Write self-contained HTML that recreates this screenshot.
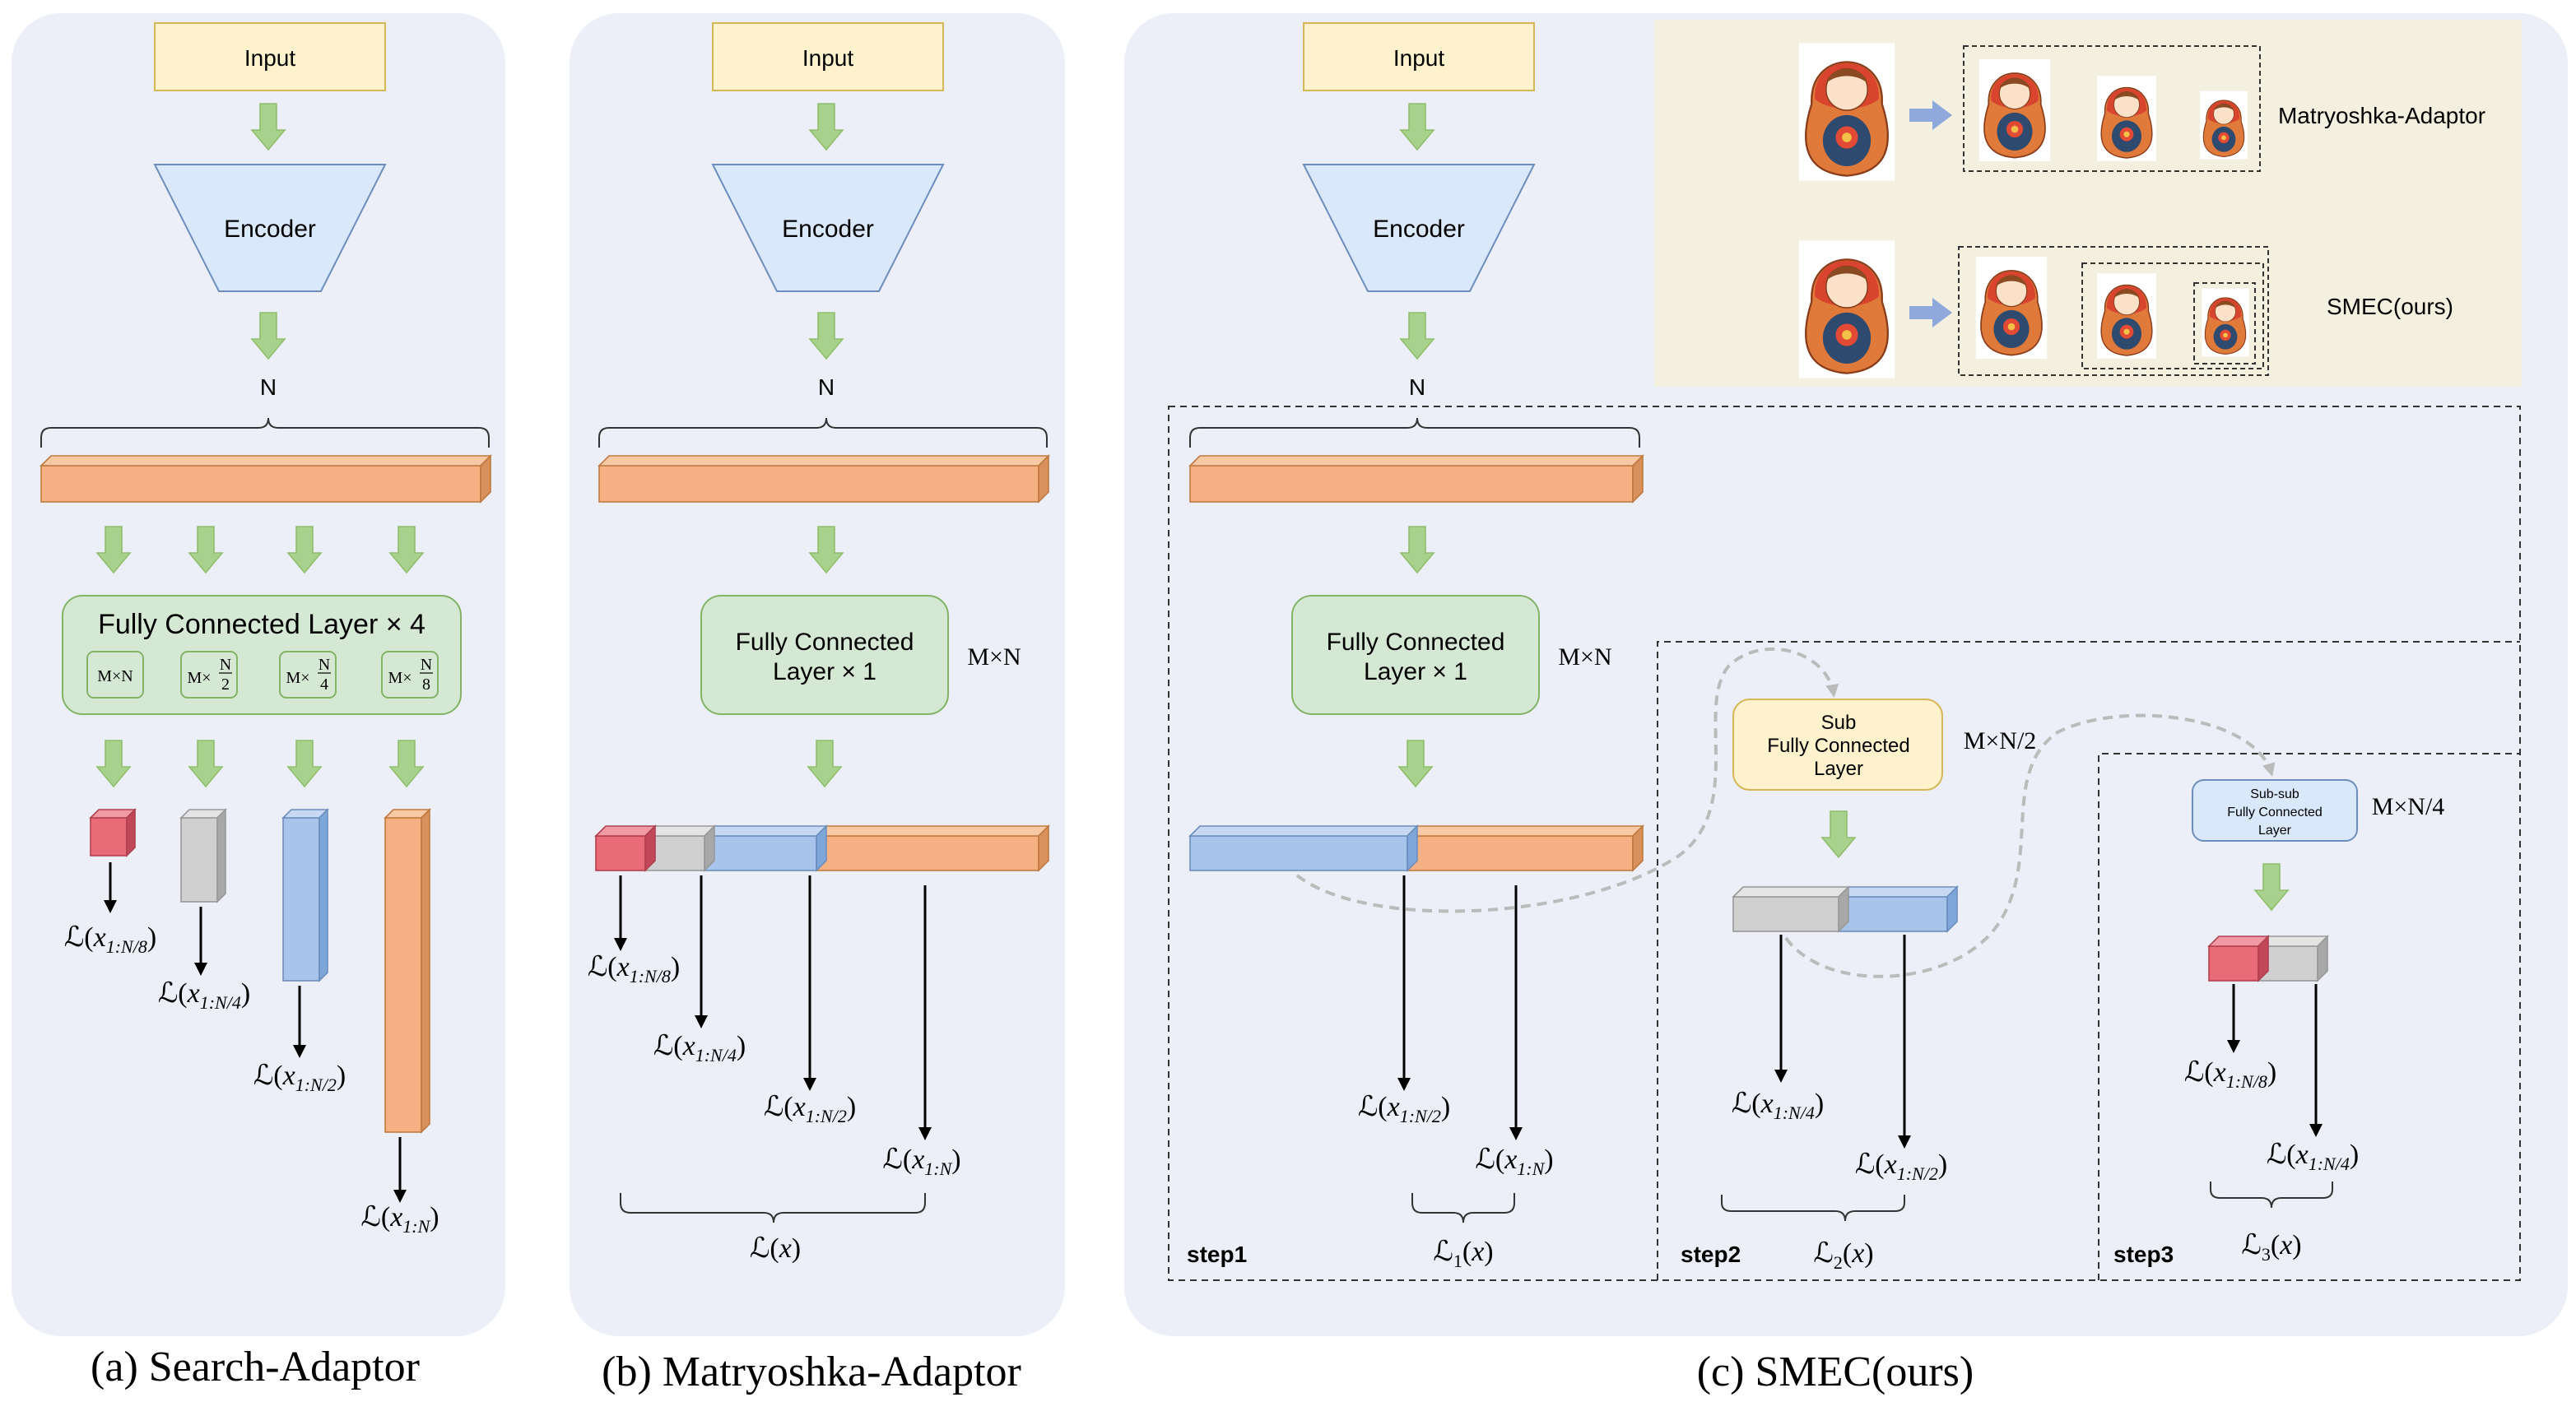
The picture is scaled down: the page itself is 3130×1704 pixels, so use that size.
<!DOCTYPE html>
<html><head><meta charset="utf-8"><style>html,body{margin:0;padding:0;background:#fff}svg{display:block}.s{font-style:italic}</style></head><body>
<svg width="3130" height="1704" viewBox="0 0 1565 852" preserveAspectRatio="none" xmlns="http://www.w3.org/2000/svg" font-family="Liberation Sans, sans-serif">
<defs>
<symbol id="ga" overflow="visible"><polygon points="-5,0 5,0 5,16 10,16 0,28 -10,16 -5,16" fill="#a9d18e" stroke="#8fbf6b" stroke-width="0.8"/></symbol>
<marker id="ah" markerWidth="8" markerHeight="8" refX="6" refY="4" orient="auto" markerUnits="userSpaceOnUse"><path d="M0,0 L8,4 L0,8 z" fill="#000"/></marker>
<marker id="gh" markerWidth="8" markerHeight="8" refX="6" refY="4" orient="auto" markerUnits="userSpaceOnUse"><path d="M0,0 L8,4 L0,8 z" fill="#bbb"/></marker>
<g id="doll">
<rect x="-30" y="-43" width="60" height="86" fill="#fff"/>
<path d="M-22,-5 C-24,-40 24,-40 22,-5 C30,20 26,38 0,40 C-26,38 -30,20 -22,-5z" fill="#e07a3a" stroke="#8a3d1a" stroke-width="1.2"/>
<path d="M-20,-8 C-22,-38 22,-38 20,-8 C10,0 -10,0 -20,-8z" fill="#d9442f"/>
<ellipse cx="0" cy="-14" rx="13" ry="13" fill="#fbe1c8" stroke="#8a3d1a" stroke-width="0.8"/>
<path d="M-13,-18 C-10,-30 10,-30 13,-18 C6,-24 -6,-24 -13,-18z" fill="#8a4a22"/>
<ellipse cx="0" cy="18" rx="15" ry="16" fill="#2e4a6e"/>
<circle cx="0" cy="16" r="7" fill="#e24a35"/><circle cx="0" cy="16" r="3" fill="#f3c14a"/>
</g>
</defs>

<rect x="7" y="8" width="300" height="804" rx="30" fill="#eceff7"/>
<rect x="346" y="8" width="301" height="804" rx="30" fill="#eceff7"/>
<rect x="683" y="8" width="877" height="804" rx="30" fill="#eceff7"/>

<g font-size="14" text-anchor="middle">
<rect x="94" y="14" width="140" height="41" fill="#fff2cc" stroke="#d6b656"/>
<text x="164" y="40">Input</text>
<use href="#ga" x="163" y="63"/>
<polygon points="94,100 234,100 195,177 133,177" fill="#dae8fc" stroke="#6c8ebf"/>
<text x="164" y="144" font-size="15">Encoder</text>
<use href="#ga" x="163" y="190"/>
<text x="163" y="240">N</text>
<path d="M25,272 V266 Q25,260 31,260 H157 Q163,260 163,254 Q163,260 169,260 H291 Q297,260 297,266 V272" fill="none" stroke="#333" stroke-width="1"/>
<g stroke="#c07a40" stroke-width="0.8"><rect x="25" y="283" width="267" height="22" fill="#f5b183"/><polygon points="25,283 31,277 298,277 292,283" fill="#f8c9a5"/><polygon points="292,283 298,277 298,299 292,305" fill="#d9905a"/></g>
<use href="#ga" x="69" y="320"/><use href="#ga" x="125" y="320"/><use href="#ga" x="185" y="320"/><use href="#ga" x="247" y="320"/>
<rect x="38" y="362" width="242" height="72" rx="12" fill="#d5e8d4" stroke="#82b366"/>
<text x="159" y="385" font-size="17">Fully Connected Layer × 4</text>
<g fill="#d5e8d4" stroke="#82b366"><rect x="53" y="396" width="34" height="28" rx="4"/><rect x="110" y="396" width="34" height="28" rx="4"/><rect x="170" y="396" width="34" height="28" rx="4"/><rect x="232" y="396" width="34" height="28" rx="4"/></g>
<g font-family="Liberation Serif, serif" font-size="10">
<text x="70" y="414">M×N</text>
<text x="121" y="415">M×</text><text x="137" y="407">N</text><line x1="133" y1="409" x2="141" y2="409" stroke="#000" stroke-width="0.6"/><text x="137" y="419">2</text>
<text x="181" y="415">M×</text><text x="197" y="407">N</text><line x1="193" y1="409" x2="201" y2="409" stroke="#000" stroke-width="0.6"/><text x="197" y="419">4</text>
<text x="243" y="415">M×</text><text x="259" y="407">N</text><line x1="255" y1="409" x2="263" y2="409" stroke="#000" stroke-width="0.6"/><text x="259" y="419">8</text>
</g>
<use href="#ga" x="69" y="450"/><use href="#ga" x="125" y="450"/><use href="#ga" x="185" y="450"/><use href="#ga" x="247" y="450"/>
<g stroke-width="0.8">
<rect x="55" y="497" width="22" height="23" fill="#ea6b78" stroke="#b04050"/><polygon points="55,497 60,492 82,492 77,497" fill="#f29aa4" stroke="#b04050"/><polygon points="77,497 82,492 82,515 77,520" fill="#c04858" stroke="#b04050"/>
<rect x="110" y="497" width="22" height="51" fill="#d0d0d0" stroke="#999"/><polygon points="110,497 115,492 137,492 132,497" fill="#e4e4e4" stroke="#999"/><polygon points="132,497 137,492 137,543 132,548" fill="#a8a8a8" stroke="#999"/>
<rect x="172" y="497" width="22" height="99" fill="#a9c4eb" stroke="#6c8ebf"/><polygon points="172,497 177,492 199,492 194,497" fill="#c6d8f2" stroke="#6c8ebf"/><polygon points="194,497 199,492 199,591 194,596" fill="#7ea6d8" stroke="#6c8ebf"/>
<rect x="234" y="497" width="22" height="191" fill="#f5b183" stroke="#c07a40"/><polygon points="234,497 239,492 261,492 256,497" fill="#f8c9a5" stroke="#c07a40"/><polygon points="256,497 261,492 261,683 256,688" fill="#d9905a" stroke="#c07a40"/>
</g>
<g stroke="#000" stroke-width="1.5" marker-end="url(#ah)">
<line x1="67" y1="524" x2="67" y2="553"/><line x1="122" y1="551" x2="122" y2="591"/><line x1="182" y1="599" x2="182" y2="641"/><line x1="243" y1="691" x2="243" y2="729"/>
</g>
<g font-family="Liberation Serif, serif" font-size="17">
<text x="67" y="575">ℒ(<tspan font-style="italic">x</tspan><tspan class="s" font-size="11" dy="4">1:N/8</tspan><tspan dy="-4">)</tspan></text>
<text x="124" y="609">ℒ(<tspan font-style="italic">x</tspan><tspan class="s" font-size="11" dy="4">1:N/4</tspan><tspan dy="-4">)</tspan></text>
<text x="182" y="659">ℒ(<tspan font-style="italic">x</tspan><tspan class="s" font-size="11" dy="4">1:N/2</tspan><tspan dy="-4">)</tspan></text>
<text x="243" y="745">ℒ(<tspan font-style="italic">x</tspan><tspan class="s" font-size="11" dy="4">1:N</tspan><tspan dy="-4">)</tspan></text>
</g>
<text x="155" y="839" font-family="Liberation Serif, serif" font-size="26">(a) Search-Adaptor</text>

<rect x="433" y="14" width="140" height="41" fill="#fff2cc" stroke="#d6b656"/>
<text x="503" y="40">Input</text>
<use href="#ga" x="502" y="63"/>
<polygon points="433,100 573,100 534,177 472,177" fill="#dae8fc" stroke="#6c8ebf"/>
<text x="503" y="144" font-size="15">Encoder</text>
<use href="#ga" x="502" y="190"/>
<text x="502" y="240">N</text>
<path d="M364,272 V266 Q364,260 370,260 H496 Q502,260 502,254 Q502,260 508,260 H630 Q636,260 636,266 V272" fill="none" stroke="#333" stroke-width="1"/>
<g stroke="#c07a40" stroke-width="0.8"><rect x="364" y="283" width="267" height="22" fill="#f5b183"/><polygon points="364,283 370,277 637,277 631,283" fill="#f8c9a5"/><polygon points="631,283 637,277 637,299 631,305" fill="#d9905a"/></g>
<use href="#ga" x="502" y="320"/>
<rect x="426" y="362" width="150" height="72" rx="12" fill="#d5e8d4" stroke="#82b366"/>
<text x="501" y="395" font-size="15">Fully Connected</text><text x="501" y="413" font-size="15">Layer × 1</text>
<text x="604" y="404" font-family="Liberation Serif, serif" font-size="15">M×N</text>
<use href="#ga" x="501" y="450"/>
<g stroke-width="0.8">
<rect x="496" y="508" width="135" height="21" fill="#f5b183" stroke="#c07a40"/><polygon points="496,508 502,502 637,502 631,508" fill="#f8c9a5" stroke="#c07a40"/><polygon points="631,508 637,502 637,523 631,529" fill="#d9905a" stroke="#c07a40"/>
<rect x="428" y="508" width="68" height="21" fill="#a9c4eb" stroke="#6c8ebf"/><polygon points="428,508 434,502 502,502 496,508" fill="#c6d8f2" stroke="#6c8ebf"/><polygon points="496,508 502,502 502,523 496,529" fill="#7ea6d8" stroke="#6c8ebf"/>
<rect x="392" y="508" width="36" height="21" fill="#d0d0d0" stroke="#999"/><polygon points="392,508 398,502 434,502 428,508" fill="#e4e4e4" stroke="#999"/><polygon points="428,508 434,502 434,523 428,529" fill="#a8a8a8" stroke="#999"/>
<rect x="362" y="508" width="30" height="21" fill="#ea6b78" stroke="#b04050"/><polygon points="362,508 368,502 398,502 392,508" fill="#f29aa4" stroke="#b04050"/><polygon points="392,508 398,502 398,523 392,529" fill="#c04858" stroke="#b04050"/>
</g>
<g stroke="#000" stroke-width="1.5" marker-end="url(#ah)">
<line x1="377" y1="532" x2="377" y2="576"/><line x1="426" y1="532" x2="426" y2="623"/><line x1="492" y1="532" x2="492" y2="661"/><line x1="562" y1="538" x2="562" y2="691"/>
</g>
<g font-family="Liberation Serif, serif" font-size="17">
<text x="385" y="593">ℒ(<tspan font-style="italic">x</tspan><tspan class="s" font-size="11" dy="4">1:N/8</tspan><tspan dy="-4">)</tspan></text>
<text x="425" y="641">ℒ(<tspan font-style="italic">x</tspan><tspan class="s" font-size="11" dy="4">1:N/4</tspan><tspan dy="-4">)</tspan></text>
<text x="492" y="678">ℒ(<tspan font-style="italic">x</tspan><tspan class="s" font-size="11" dy="4">1:N/2</tspan><tspan dy="-4">)</tspan></text>
<text x="560" y="710">ℒ(<tspan font-style="italic">x</tspan><tspan class="s" font-size="11" dy="4">1:N</tspan><tspan dy="-4">)</tspan></text>
<text x="471" y="764">ℒ(<tspan font-style="italic">x</tspan>)</text>
</g>
<path d="M377,725 V731 Q377,737 383,737 H464 Q470,737 470,743 Q470,737 476,737 H556 Q562,737 562,731 V725" fill="none" stroke="#333" stroke-width="1"/>
<text x="493" y="842" font-family="Liberation Serif, serif" font-size="26">(b) Matryoshka-Adaptor</text>

<rect x="1005" y="12" width="527" height="223" fill="#f3f0e0"/>
<rect x="710" y="247" width="821" height="531" fill="none" stroke="#333" stroke-dasharray="4,3"/>
<path d="M1007,778 V390 H1531" fill="none" stroke="#333" stroke-dasharray="4,3"/>
<path d="M1275,778 V458 H1531" fill="none" stroke="#333" stroke-dasharray="4,3"/>

<rect x="792" y="14" width="140" height="41" fill="#fff2cc" stroke="#d6b656"/>
<text x="862" y="40">Input</text>
<use href="#ga" x="861" y="63"/>
<polygon points="792,100 932,100 893,177 831,177" fill="#dae8fc" stroke="#6c8ebf"/>
<text x="862" y="144" font-size="15">Encoder</text>
<use href="#ga" x="861" y="190"/>
<text x="861" y="240">N</text>
<path d="M723,272 V266 Q723,260 729,260 H855 Q861,260 861,254 Q861,260 867,260 H990 Q996,260 996,266 V272" fill="none" stroke="#333" stroke-width="1"/>
<g stroke="#c07a40" stroke-width="0.8"><rect x="723" y="283" width="269" height="22" fill="#f5b183"/><polygon points="723,283 729,277 998,277 992,283" fill="#f8c9a5"/><polygon points="992,283 998,277 998,299 992,305" fill="#d9905a"/></g>
<use href="#ga" x="861" y="320"/>
<rect x="785" y="362" width="150" height="72" rx="12" fill="#d5e8d4" stroke="#82b366"/>
<text x="860" y="395" font-size="15">Fully Connected</text><text x="860" y="413" font-size="15">Layer × 1</text>
<text x="963" y="404" font-family="Liberation Serif, serif" font-size="15">M×N</text>
<use href="#ga" x="860" y="450"/>
<g stroke-width="0.8">
<rect x="855" y="508" width="137" height="21" fill="#f5b183" stroke="#c07a40"/><polygon points="855,508 861,502 998,502 992,508" fill="#f8c9a5" stroke="#c07a40"/><polygon points="992,508 998,502 998,523 992,529" fill="#d9905a" stroke="#c07a40"/>
<rect x="723" y="508" width="132" height="21" fill="#a9c4eb" stroke="#6c8ebf"/><polygon points="723,508 729,502 861,502 855,508" fill="#c6d8f2" stroke="#6c8ebf"/><polygon points="855,508 861,502 861,523 855,529" fill="#7ea6d8" stroke="#6c8ebf"/>
</g>
<rect x="1053" y="425" width="127" height="55" rx="10" fill="#fff2cc" stroke="#d6b656"/>
<text x="1117" y="443" font-size="12">Sub</text><text x="1117" y="457" font-size="12">Fully Connected</text><text x="1117" y="471" font-size="12">Layer</text>
<text x="1215" y="455" font-family="Liberation Serif, serif" font-size="15">M×N/2</text>
<use href="#ga" x="1117" y="493"/>
<g stroke-width="0.8">
<rect x="1117" y="545" width="66" height="21" fill="#a9c4eb" stroke="#6c8ebf"/><polygon points="1117,545 1123,539 1189,539 1183,545" fill="#c6d8f2" stroke="#6c8ebf"/><polygon points="1183,545 1189,539 1189,560 1183,566" fill="#7ea6d8" stroke="#6c8ebf"/>
<rect x="1053" y="545" width="64" height="21" fill="#d0d0d0" stroke="#999"/><polygon points="1053,545 1059,539 1123,539 1117,545" fill="#e4e4e4" stroke="#999"/><polygon points="1117,545 1123,539 1123,560 1117,566" fill="#a8a8a8" stroke="#999"/>
</g>
<rect x="1332" y="474" width="100" height="37" rx="7" fill="#dae8fc" stroke="#6c8ebf"/>
<text x="1382" y="485" font-size="8">Sub-sub</text><text x="1382" y="496" font-size="8">Fully Connected</text><text x="1382" y="507" font-size="8">Layer</text>
<text x="1463" y="495" font-family="Liberation Serif, serif" font-size="15">M×N/4</text>
<use href="#ga" x="1380" y="525"/>
<g stroke-width="0.8">
<rect x="1372" y="575" width="36" height="21" fill="#d0d0d0" stroke="#999"/><polygon points="1372,575 1378,569 1414,569 1408,575" fill="#e4e4e4" stroke="#999"/><polygon points="1408,575 1414,569 1414,590 1408,596" fill="#a8a8a8" stroke="#999"/>
<rect x="1342" y="575" width="30" height="21" fill="#ea6b78" stroke="#b04050"/><polygon points="1342,575 1348,569 1378,569 1372,575" fill="#f29aa4" stroke="#b04050"/><polygon points="1372,575 1378,569 1378,590 1372,596" fill="#c04858" stroke="#b04050"/>
</g>
<path d="M788,532 C830,565 960,560 1020,520 C1060,490 1030,430 1050,405 C1070,385 1110,395 1114,422" fill="none" stroke="#bbb" stroke-width="2" stroke-dasharray="6,4" marker-end="url(#gh)"/>
<path d="M1085,570 C1110,605 1190,600 1215,560 C1240,520 1215,470 1250,445 C1290,425 1370,435 1380,470" fill="none" stroke="#bbb" stroke-width="2" stroke-dasharray="6,4" marker-end="url(#gh)"/>

<g stroke="#000" stroke-width="1.5" marker-end="url(#ah)">
<line x1="853" y1="532" x2="853" y2="661"/><line x1="921" y1="538" x2="921" y2="691"/>
<line x1="1082" y1="568" x2="1082" y2="656"/><line x1="1157" y1="568" x2="1157" y2="696"/>
<line x1="1357" y1="598" x2="1357" y2="638"/><line x1="1407" y1="598" x2="1407" y2="689"/>
</g>
<g font-family="Liberation Serif, serif" font-size="17">
<text x="853" y="678">ℒ(<tspan font-style="italic">x</tspan><tspan class="s" font-size="11" dy="4">1:N/2</tspan><tspan dy="-4">)</tspan></text>
<text x="920" y="710">ℒ(<tspan font-style="italic">x</tspan><tspan class="s" font-size="11" dy="4">1:N</tspan><tspan dy="-4">)</tspan></text>
<text x="889" y="766">ℒ<tspan font-size="11" dy="4">1</tspan><tspan dy="-4">(</tspan><tspan font-style="italic">x</tspan>)</text>
<text x="1080" y="676">ℒ(<tspan font-style="italic">x</tspan><tspan class="s" font-size="11" dy="4">1:N/4</tspan><tspan dy="-4">)</tspan></text>
<text x="1155" y="713">ℒ(<tspan font-style="italic">x</tspan><tspan class="s" font-size="11" dy="4">1:N/2</tspan><tspan dy="-4">)</tspan></text>
<text x="1120" y="767">ℒ<tspan font-size="11" dy="4">2</tspan><tspan dy="-4">(</tspan><tspan font-style="italic">x</tspan>)</text>
<text x="1355" y="657">ℒ(<tspan font-style="italic">x</tspan><tspan class="s" font-size="11" dy="4">1:N/8</tspan><tspan dy="-4">)</tspan></text>
<text x="1405" y="707">ℒ(<tspan font-style="italic">x</tspan><tspan class="s" font-size="11" dy="4">1:N/4</tspan><tspan dy="-4">)</tspan></text>
<text x="1380" y="762">ℒ<tspan font-size="11" dy="4">3</tspan><tspan dy="-4">(</tspan><tspan font-style="italic">x</tspan>)</text>
</g>
<path d="M858,725 V731 Q858,737 864,737 H883 Q889,737 889,743 Q889,737 895,737 H914 Q920,737 920,731 V725" fill="none" stroke="#333"/>
<path d="M1046,726 V731 Q1046,736 1052,736 H1115 Q1121,736 1121,742 Q1121,736 1127,736 H1151 Q1157,736 1157,731 V726" fill="none" stroke="#333"/>
<path d="M1343,718 V723 Q1343,728 1349,728 H1374 Q1380,728 1380,734 Q1380,728 1386,728 H1411 Q1417,728 1417,723 V718" fill="none" stroke="#333"/>
<g font-weight="bold" font-size="14" text-anchor="start">
<text x="721" y="767">step1</text><text x="1021" y="767">step2</text><text x="1284" y="767">step3</text>
</g>

<use href="#doll" transform="translate(1122,68) scale(0.97)"/>
<polygon points="1160,66 1174,66 1174,61 1186,70 1174,79 1174,74 1160,74" fill="#8fa9dc"/>
<rect x="1193" y="28" width="180" height="76" fill="none" stroke="#333" stroke-dasharray="3,2"/>
<use href="#doll" transform="translate(1224,67) scale(0.72)"/>
<use href="#doll" transform="translate(1292,72) scale(0.6)"/>
<use href="#doll" transform="translate(1351,76) scale(0.48)"/>
<text x="1447" y="75" font-size="14">Matryoshka-Adaptor</text>

<use href="#doll" transform="translate(1122,188) scale(0.97)"/>
<polygon points="1160,186 1174,186 1174,181 1186,190 1174,199 1174,194 1160,194" fill="#8fa9dc"/>
<rect x="1190" y="150" width="188" height="78" fill="none" stroke="#333" stroke-dasharray="3,2"/>
<rect x="1265" y="160" width="110" height="64" fill="none" stroke="#333" stroke-dasharray="3,2"/>
<rect x="1333" y="172" width="37" height="49" fill="none" stroke="#333" stroke-dasharray="3,2"/>
<use href="#doll" transform="translate(1222,187) scale(0.72)"/>
<use href="#doll" transform="translate(1292,192) scale(0.6)"/>
<use href="#doll" transform="translate(1352,196) scale(0.48)"/>
<text x="1452" y="191" font-size="14">SMEC(ours)</text>

<text x="1115" y="842" font-family="Liberation Serif, serif" font-size="26">(c) SMEC(ours)</text>
</g>
</svg>
</body></html>
